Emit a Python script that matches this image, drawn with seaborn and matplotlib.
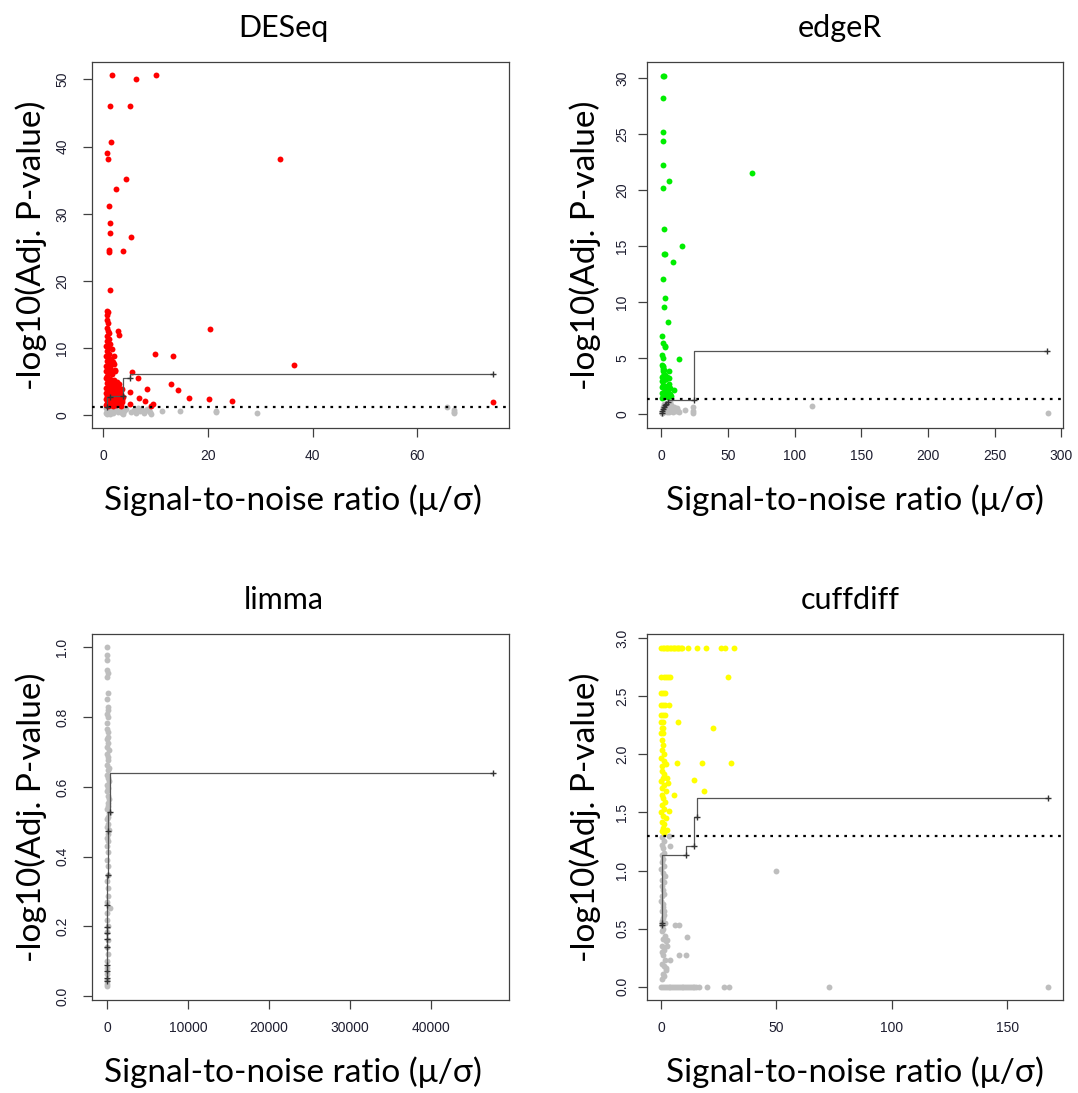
import matplotlib
matplotlib.use("Agg")
import matplotlib.pyplot as plt
import pandas as pd
import seaborn as sns

sns.set_theme(style="white")
plt.rcParams['font.family'] = ['Liberation Sans', 'DejaVu Sans']

# ---------------- data ----------------
titles = ["DESeq", "edgeR", "limma", "cuffdiff"]
sig_colors = ["#ff0000", "#00ee00", "#ffff00", "#ffff00"]
threshold = 1.30103  # -log10(0.05)

# DESeq
deseq_red_x = [1.65, 6.3, 10.1, 1.27, 5.16, 1.46, 0.76, 0.89, 33.8, 4.26, 2.42, 1.14, 1.27, 1.27, 5.3,
               1.08, 1.08, 3.82, 1.27, 20.4, 9.94, 13.25, 36.4, 74.5, 2.86, 2.99, 5.54, 6.62, 12.87, 14.33,
               8.28, 5.0, 6.83, 7.96, 16.37, 20.2, 24.6, 9.55, 9.0, 5.0, 1.97, 2.1, 2.22,
               0.6, 0.9, 0.7, 0.6, 0.9, 0.6, 0.8, 1.1, 0.6, 1.0, 0.7, 1.3, 0.5, 0.9, 1.6, 0.6, 1.1, 0.5, 0.8, 1.4,
               0.6, 1.9, 1.0, 0.5, 1.3, 0.8, 2.3, 0.5, 1.1, 1.6, 0.7, 0.5, 1.3, 2.0, 0.9, 2.6, 0.6, 1.5, 1.0, 2.2,
               0.5, 3.0, 1.3, 0.8, 1.8, 2.6, 0.5, 1.1, 3.4, 2.0, 0.7, 1.5, 2.8, 0.5, 1.0, 2.3, 3.6, 0.7, 1.7, 3.0,
               0.5, 1.2, 2.5, 0.8, 1.9, 3.3,
               2.9, 3.5, 2.4, 1.6, 3.2, 2.7, 1.3, 2.0, 3.7, 2.5, 1.6, 3.1, 2.2, 1.2, 1.8, 2.9, 3.5, 0.9, 2.6, 1.4]
deseq_red_y = [50.6, 50.0, 50.6, 46.1, 46.1, 40.7, 39.1, 38.1, 38.1, 35.2, 33.75, 31.1, 28.7, 27.1, 26.6,
               24.6, 24.3, 24.5, 18.7, 12.9, 9.1, 8.8, 7.5, 1.99, 12.6, 12.0, 6.46, 5.6, 4.72, 3.73,
               3.87, 3.43, 2.58, 2.14, 2.58, 2.44, 2.14, 1.69, 1.45, 1.69, 8.8, 7.6, 6.6,
               15.5, 15.4, 14.9, 14.2, 13.8, 13.0, 12.6, 12.2, 11.8, 11.4, 11.0, 10.6, 10.3, 10.0, 9.8, 9.5, 9.2, 8.9, 8.6, 8.4,
               8.1, 8.0, 7.7, 7.4, 7.2, 6.9, 6.8, 6.6, 6.4, 6.1, 5.9, 5.6, 5.4, 5.3, 5.1, 5.0, 4.8, 4.6, 4.4, 4.3,
               4.1, 4.0, 3.9, 3.7, 3.5, 3.4, 3.3, 3.1, 3.0, 2.9, 2.8, 2.6, 2.5, 2.4, 2.2, 2.1, 2.0, 1.9, 1.8, 1.7,
               1.6, 1.5, 1.5, 1.4, 1.4, 1.4,
               1.9, 2.3, 2.7, 3.0, 3.4, 3.8, 4.2, 4.6, 2.7, 1.8, 2.3, 2.0, 3.6, 2.0, 4.0, 4.6, 3.9, 5.6, 3.0, 6.8]
deseq_grey_x = [0.5, 0.8, 1.2, 0.6, 1.0, 1.5, 1.9, 2.3, 2.7, 0.7, 1.3, 3.1, 3.5, 4.0, 4.4, 5.2, 5.8, 6.3, 7.0, 7.8,
                8.4, 8.9, 9.1, 2.0, 3.9, 0.4, 1.7, 6.6, 3.8, 7.3, 8.7, 11.2, 14.7, 21.5, 21.5, 29.4, 65.7, 67.0, 67.0, 67.0]
deseq_grey_y = [1.1, 0.9, 1.0, 0.6, 0.4, 0.7, 0.3, 0.9, 0.5, 0.2, 0.15, 0.8, 0.3, 0.6, 1.0, 0.5, 0.8, 0.3, 0.7, 0.4,
                0.9, 0.5, 0.2, 1.2, 1.1, 0.35, 0.5, 1.1, 0.25, 0.85, 0.6, 0.6, 0.6, 0.7, 0.45, 0.3, 1.25, 0.8, 0.5, 0.3]
deseq_step_x = [0.7, 1.2, 3.7, 5.0, 74.5]
deseq_step_y = [1.25, 2.75, 2.9, 5.6, 6.2]

# edgeR
edger_green_x = [1.48, 2.0, 1.2, 1.3, 1.2, 1.3, 68.2, 5.72, 1.2, 2.0, 2.2, 2.7, 15.5, 8.5, 1.3,
                 2.7, 2.0, 5.0, 0.5, 1.2, 2.6, 3.0, 0.8, 1.3, 13.5, 1.2, 1.3, 5.7, 9.2,
                 0.3, 1.0, 2.2, 3.5, 4.8, 0.5, 1.8, 3.0, 5.0, 6.5, 0.2, 1.2, 2.5, 4.2, 6.0,
                 0.7, 2.0, 3.6, 5.5, 0.3, 1.4, 2.8, 4.5, 0.9, 2.3, 1.5, 0.4, 6.8, 7.0]
edger_green_y = [30.25, 30.25, 28.24, 25.2, 24.4, 22.25, 21.5, 20.8, 20.24, 16.5, 14.3, 14.3, 15.0, 13.6, 12.05,
                 10.4, 9.6, 8.25, 7.0, 6.33, 6.1, 5.95, 5.3, 5.0, 4.95, 4.3, 4.0, 3.81, 2.16,
                 1.4, 1.6, 1.5, 1.7, 1.5, 1.9, 2.0, 2.2, 2.0, 1.8, 2.4, 2.6, 2.5, 2.4, 2.7,
                 2.9, 3.0, 3.1, 3.2, 3.3, 3.4, 3.5, 3.3, 3.8, 3.9, 4.2, 4.4, 2.3, 1.6]
edger_grey_x = [0.2, 1.0, 2.0, 3.0, 4.0, 5.0, 6.0, 7.0, 8.0, 9.0, 10.0, 11.0, 12.5, 13.5, 3.5, 5.5, 7.5, 9.5,
                2.0, 4.5, 1.0, 6.5, 8.5, 11.5, 0.5, 17.7, 23.8, 23.8, 23.8, 112.7, 289.6]
edger_grey_y = [0.1, 0.3, 0.2, 0.4, 0.15, 0.35, 0.2, 0.5, 0.3, 0.2, 0.4, 0.25, 0.3, 0.2, 0.7, 0.6, 0.8, 0.6,
                0.9, 1.0, 0.6, 1.1, 0.55, 0.5, 0.05, 0.39, 0.66, 0.23, 0.1, 0.73, 0.06]
edger_step_x = [0.1, 0.4, 0.9, 1.6, 2.5, 3.5, 5.0, 24.2, 289.3]
edger_step_y = [0.05, 0.25, 0.45, 0.62, 0.78, 0.92, 1.08, 1.2, 5.64]

# limma (nothing significant -> all grey)
limma_grey_y = [1.0, 0.978, 0.963, 0.935, 0.925, 0.916, 0.87, 0.851, 0.829, 0.819, 0.81, 0.80, 0.783,
                0.767, 0.756, 0.744, 0.737, 0.726, 0.713, 0.706, 0.694, 0.687, 0.676, 0.663, 0.655, 0.647,
                0.634, 0.626, 0.617, 0.604, 0.596, 0.587, 0.573, 0.566, 0.554, 0.546, 0.537, 0.524, 0.515,
                0.507, 0.494, 0.486, 0.476, 0.466, 0.453, 0.445, 0.43, 0.412, 0.391, 0.372, 0.348, 0.33,
                0.309, 0.288, 0.271, 0.254, 0.238, 0.219, 0.2, 0.183, 0.162, 0.141, 0.122, 0.101, 0.082,
                0.063, 0.047, 0.036, 0.03]
limma_grey_x = [10, 30, 60, 20, 90, 40, 120, 30, 80, 150, 20, 110, 60,
                40, 180, 90, 20, 140, 60, 220, 30, 110, 170, 50, 240, 80,
                20, 130, 200, 60, 100, 30, 160, 250, 70, 120, 40, 190, 90, 20,
                140, 60, 230, 100, 30, 170, 60, 120, 40, 90, 150, 30,
                70, 110, 40, 420, 60, 20, 90, 50, 130, 30, 80, 40, 20,
                60, 30, 50, 20]
limma_step_x = [20, 20, 30, 30, 40, 40, 50, 60, 60, 80, 100, 420, 47650]
limma_step_y = [0.043, 0.053, 0.072, 0.091, 0.141, 0.165, 0.182, 0.198, 0.261, 0.347, 0.475, 0.527, 0.641]

# cuffdiff
cuff_yellow_x = [0.2, 0.8, 1.4, 2.0, 2.6, 3.2, 3.8, 4.4, 5.0, 5.6, 6.2, 6.8, 7.4, 8.0, 8.6, 9.1, 11.6, 15.5, 19.5, 25.9, 27.9, 31.7,
                 0.2, 1.2, 2.2, 3.1, 4.1, 29.2,
                 0.2, 1.0, 1.6,
                 0.2, 1.0, 1.8, 3.5,
                 0.2, 1.0, 1.6,
                 0.2, 0.9, 7.5,
                 0.3, 1.0, 22.6,
                 0.2, 0.9,
                 0.3, 1.0, 0.5, 1.5, 0.2, 1.1, 2.0, 0.6, 0.3, 1.4, 0.8, 2.4, 0.2, 1.2, 0.6,
                 2.0, 0.3, 1.0, 1.8, 0.5, 1.3, 0.2, 0.9, 2.2, 0.4, 1.5, 0.8, 0.3, 1.2, 2.6,
                 7.1, 17.9, 30.4, 14.2, 3.0, 18.7, 5.5, 3.4]
cuff_yellow_y = [2.917, 2.917, 2.917, 2.917, 2.917, 2.917, 2.917, 2.917, 2.917, 2.917, 2.917, 2.917,
                 2.917, 2.917, 2.917, 2.917, 2.917, 2.917, 2.917, 2.917, 2.917, 2.917,
                 2.665, 2.665, 2.665, 2.665, 2.665, 2.665,
                 2.524, 2.524, 2.524,
                 2.42, 2.42, 2.42, 2.42,
                 2.337, 2.337, 2.337,
                 2.28, 2.28, 2.28,
                 2.226, 2.226, 2.226,
                 2.18, 2.18,
                 2.12, 2.08, 2.04, 2.0, 1.97, 1.94, 1.92, 1.9, 1.86, 1.83, 1.8, 1.8, 1.77, 1.74, 1.71,
                 1.68, 1.65, 1.62, 1.59, 1.56, 1.53, 1.5, 1.47, 1.45, 1.42, 1.40, 1.37, 1.34, 1.32, 1.35,
                 1.928, 1.928, 1.928, 1.776, 1.756, 1.684, 1.652, 1.512]
cuff_grey_x = [0.1, 0.9, 1.7, 2.5, 3.3, 4.1, 4.9, 5.7, 6.5, 7.3, 8.1, 8.9, 9.7, 10.5, 11.3, 12.1, 12.9, 13.7, 14.5,
               15.3, 16.4, 20.0, 27.4, 29.5, 72.8, 167.6,
               0.5, 1.2, 0.3, 0.8, 1.5, 0.4, 1.0, 0.6, 1.3, 0.2, 0.9, 1.6, 0.5, 1.1, 0.3, 0.8, 1.4, 0.6, 0.2, 1.0,
               0.7, 0.4, 1.2, 0.8, 0.3, 0.6, 1.0, 0.4, 1.7, 0.9, 2.2, 0.5, 1.4, 0.3, 0.8, 1.6, 0.4, 1.1, 2.0, 0.7,
               1.3, 0.5,
               2.8, 11.3, 7.7, 6.2, 7.7, 10.9, 3.8, 3.8, 3.3, 49.9, 2.5, 2.0, 1.8, 1.5]
cuff_grey_y = [0.0] * 26 + [1.29, 1.25, 1.22, 1.19, 1.15, 1.13, 1.10, 1.07, 1.04, 1.01, 0.98, 0.95, 0.92, 0.90, 0.87,
               0.83, 0.80, 0.78, 0.74, 0.71, 0.69, 0.65, 0.62, 0.59, 0.57, 0.53, 0.50, 0.48, 0.44, 0.41, 0.39,
               0.35, 0.32, 0.30, 0.27, 0.23, 0.20, 0.18, 0.14, 0.11, 0.09, 0.07,
               0.40, 0.43, 0.53, 0.53, 0.275, 0.275, 0.232, 1.207, 1.295, 0.998, 0.35, 0.16, 0.55, 0.65]
cuff_step_x = [0.4, 0.4, 10.8, 14.2, 15.6, 167.6]
cuff_step_y = [0.53, 0.55, 1.13, 1.21, 1.46, 1.62]

# axis setup (limits / ticks)
xlims = [(-2.18, 77.5), (-10.8, 301.2), (-1852, 49593), (-6.07, 174.2)]
ylims = [(-1.89, 52.6), (-1.26, 31.47), (-0.0106, 1.038), (-0.114, 3.035)]
xticks = [[0, 20, 40, 60], [0, 50, 100, 150, 200, 250, 300], [0, 10000, 20000, 30000, 40000], [0, 50, 100, 150]]
yticks = [[0, 10, 20, 30, 40, 50], [0, 5, 10, 15, 20, 25, 30], [0.0, 0.2, 0.4, 0.6, 0.8, 1.0],
          [0.0, 0.5, 1.0, 1.5, 2.0, 2.5, 3.0]]
ytick_fmt = ["{:.0f}", "{:.0f}", "{:.1f}", "{:.1f}"]

xlabel = "Signal-to-noise ratio (μ/σ)"
ylabel = "-log10(Adj. P-value)"

sig = [(deseq_red_x, deseq_red_y), (edger_green_x, edger_green_y), ([], []), (cuff_yellow_x, cuff_yellow_y)]
grey = [(deseq_grey_x, deseq_grey_y), (edger_grey_x, edger_grey_y), (limma_grey_x, limma_grey_y),
        (cuff_grey_x, cuff_grey_y)]
steps = [(deseq_step_x, deseq_step_y), (edger_step_x, edger_step_y), (limma_step_x, limma_step_y),
         (cuff_step_x, cuff_step_y)]

# ---------------- layout (pixels) ----------------
W, H = 1078, 1093
fig = plt.figure(figsize=(W / 100, H / 100), dpi=100)
boxes = [(92, 62, 509, 428), (647, 62, 1063, 428), (92, 634, 509, 1000), (647, 634, 1063, 1000)]
title_x = [283, 840, 284, 850]
xlabel_x = [293, 855, 293, 855]
ylabel_x = [31, 585, 31, 585]
ypad = [10, 6.5, 10, 6.5]

LABEL_FONT = ['Lato', 'DejaVu Sans']
frame_col = '#404040'
tick_text = '#1e1e30'
DOT = 18

for i in range(4):
    l, t, r, b = boxes[i]
    ax = fig.add_axes([l / W, 1 - b / H, (r - l) / W, (b - t) / H])
    gx, gy = grey[i]
    sns.scatterplot(data=pd.DataFrame({"x": gx, "y": gy}), x="x", y="y", color="#bebebe",
                    s=DOT, linewidth=0, ax=ax, zorder=2)
    sx, sy = sig[i]
    if len(sx):
        sns.scatterplot(data=pd.DataFrame({"x": sx, "y": sy}), x="x", y="y", color=sig_colors[i],
                        s=DOT, linewidth=0, ax=ax, zorder=3)
    ax.axhline(threshold, color="black", linewidth=1.6, linestyle=(0, (1.2, 2.5)), zorder=4)
    stx, sty = steps[i]
    sns.lineplot(data=pd.DataFrame({"x": stx, "y": sty}), x="x", y="y", estimator=None, sort=False,
                 drawstyle="steps-pre", color="#555555", linewidth=0.9, marker="+", markersize=4,
                 markeredgecolor="#333333", markeredgewidth=1.0, ax=ax, zorder=5)
    ax.set_xlim(*xlims[i])
    ax.set_ylim(*ylims[i])
    ax.set_xticks(xticks[i])
    ax.set_xticklabels([str(v) for v in xticks[i]])
    ax.set_yticks(yticks[i])
    ax.set_yticklabels([ytick_fmt[i].format(v) for v in yticks[i]], rotation=90, va="center")
    ax.set_xlabel("")
    ax.set_ylabel("")
    ax.tick_params(axis="x", direction="out", length=6.3, width=0.9, color=frame_col, pad=9,
                   labelsize=10, labelcolor=tick_text, bottom=True)
    ax.tick_params(axis="y", direction="out", length=6.3, width=0.9, color=frame_col, pad=ypad[i],
                   labelsize=10, labelcolor=tick_text, left=True)
    for sp in ax.spines.values():
        sp.set_visible(True)
        sp.set_color(frame_col)
        sp.set_linewidth(0.9)
    ax.grid(False)
    ax.set_facecolor("white")

    fig.text(title_x[i] / W, 1 - (t - 25.3) / H, titles[i], ha="center", va="baseline",
             fontsize=22, family=LABEL_FONT, color="black")
    fig.text(xlabel_x[i] / W, 1 - (b + 82) / H, xlabel, ha="center", va="baseline",
             fontsize=24, family=LABEL_FONT, color="black")
    fig.text(ylabel_x[i] / W, 1 - ((t + b) / 2) / H, ylabel, ha="center", va="center", rotation=90,
             fontsize=24, family=LABEL_FONT, color="black")

fig.savefig("out.png", dpi=100, facecolor="white")
